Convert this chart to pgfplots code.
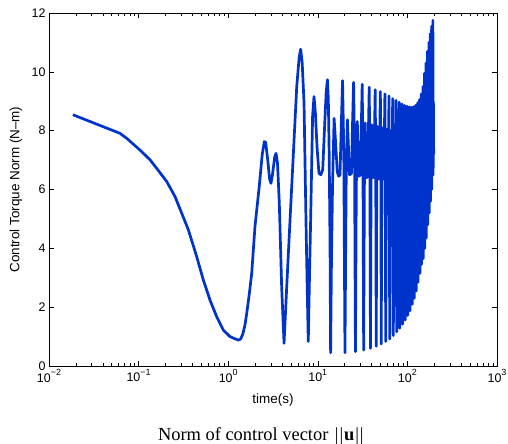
\documentclass[border=0pt]{standalone}
\usepackage{fontspec}
\setmainfont{Liberation Sans}
\newfontfamily\serif{Liberation Serif}
\usepackage{pgfplots}
\pgfplotsset{compat=1.18}
\definecolor{mblue}{rgb}{0,0.2,0.8}
\newcommand{\ex}[1]{10\raisebox{0.95ex}{\fontsize{9}{9}\selectfont #1}}
\begin{document}
\begin{tikzpicture}
\useasboundingbox (-49bp,-78bp) rectangle (459bp,366bp);
\begin{axis}[
  at={(0,0)}, anchor=south west,
  scale only axis, width=448bp, height=353bp,
  xmode=log, xmin=0.01, xmax=1000, ymin=0, ymax=12,
  xtick={0.01,0.1,1,10,100,1000},
  xticklabels={\ex{−2},\ex{−1},\ex{0},\ex{1},\ex{2},\ex{3}},
  ytick={0,2,4,6,8,10,12},
  /pgf/number format/assume math mode=true,
  tick align=inside, xtick pos=both, ytick pos=both,
  major tick length=5bp, minor tick length=3bp,
  every tick/.style={black, line width=0.6bp},
  axis line style={black, line width=0.8bp},
  ticklabel style={font=\fontsize{12.5}{14}\selectfont},
  label style={font=\fontsize{13.5}{15}\selectfont},
  xlabel={time(s)},
  xlabel style={at={(axis description cs:0.5,0)}, anchor=base, yshift=-37bp},
  ylabel={Control Torque Norm (N–m)},
  ylabel style={at={(axis description cs:-0.0737,0.5)}, anchor=center},
  clip=true,
]
\addplot[mblue, line width=2.7bp, line join=round] coordinates {
(0.0185,8.54) (0.062,7.91) (0.075,7.72) (0.092,7.48) (0.108,7.29) (0.135,7.0) (0.159,6.72)
(0.206,6.27) (0.255,5.76) (0.303,5.19) (0.359,4.63) (0.445,3.72) (0.527,2.93)
(0.627,2.24) (0.743,1.68) (0.883,1.22) (1.047,1.0) (1.20,0.92) (1.30,0.88)
(1.38,0.92) (1.46,1.1) (1.54,1.4) (1.61,1.79) (1.72,2.45) (1.83,3.15) (1.99,4.74) (2.22,6.10)
(2.40,7.2) (2.53,7.63) (2.62,7.6) (2.76,7.01) (2.90,6.35) (3.00,6.21)
(3.12,6.5) (3.30,7.1) (3.42,7.23) (3.55,6.9) (3.72,5.53) (3.95,2.70)
(4.20,0.77) (4.50,2.70) (4.90,4.97) (5.34,7.23) (5.82,9.50) (6.20,10.5)
(6.44,10.77) (6.70,10.3) (7.02,8.94) (7.38,4.97) (7.6,2.8) (7.83,0.83)
(8.05,2.8) (8.32,4.97) (8.75,8.5) (9.07,9.16) (9.4,8.6) (9.8,7.46)
(10.3,6.55) (10.8,6.5) (11.35,6.67) (12.0,8.37) (12.4,9.3) (12.8,9.73)
(13.1,9.1) (13.4,7.23) (13.7,4.0) (13.9,0.45) (14.2,3.5) (14.6,6.1)
(15.2,8.42) (15.8,7.6) (16.5,6.6) (17.1,6.45) (17.7,6.5) (18.3,8.2)
(18.9,9.70) (19.5,7.3) (20.1,0.45) (20.7,6.1) (21.4,8.37) (22.6,6.5) (23.8,6.55) (24.4,8.2)
(25.1,9.64) (25.7,7.25) (26.3,0.49) (26.9,6.1) (27.6,8.31) (28.8,6.45) (30.0,6.5) (30.6,8.15)
(31.3,9.58) (31.9,7.2) (32.5,0.54) (33.1,6.1) (33.8,8.26) (35.0,6.4) (36.2,6.45) (36.8,8.1)
(37.5,9.48) (38.1,7.1) (38.7,0.60) (39.3,6.1) (40.0,8.20) (41.2,6.4) (42.4,6.45) (43.0,8.05)
(43.7,9.39) (44.3,7.0) (44.9,0.67) (45.5,6.1) (46.2,8.15) (47.4,6.35) (48.6,6.4) (49.2,8.0)
(49.9,9.33) (50.5,7.0) (51.1,0.75) (51.7,6.1) (52.4,8.10) (53.6,6.35) (54.8,6.4) (55.4,7.95)
(56.1,9.25) (57.3,0.83) (58.6,8.05) (59.8,6.35) (61.0,6.4)
(62.3,9.18) (63.5,0.92) (64.8,8.0) (66.0,6.3) (67.2,6.35)
(68.5,9.09) (69.7,1.03) (71.0,7.96) (72.2,6.3) (73.4,6.35)
(74.7,9.03) (75.9,1.16) (77.2,7.93) (78.4,6.3) (79.6,6.35)
(80.9,8.97) (82.1,1.28) (83.4,7.9) (84.6,6.3) (85.8,6.35)
(87.1,8.91) (88.3,1.42) (89.6,7.88) (90.8,6.3) (92.0,6.35)
(93.3,8.86) (94.5,1.56) (95.8,7.86) (97.0,6.3) (98.2,6.35)
(99.5,8.83) (100.7,1.72) (102.0,7.85) (103.2,6.3) (104.4,6.35)
(105.7,8.81) (106.9,1.88) (108.2,7.85) (109.4,6.3) (110.6,6.35)
(111.9,8.80) (113.1,2.1) (114.4,7.85) (115.6,6.35) (116.8,6.4)
(118.1,8.82) (119.3,2.3) (120.6,7.9) (121.8,6.4) (123.0,6.45)
(124.3,8.87) (125.5,2.55) (126.8,7.95) (128.0,6.45) (129.2,6.5)
(130.5,8.95) (131.7,2.85) (133.0,8.0) (134.2,6.5) (135.4,6.55)
(136.7,9.05) (137.9,3.15) (139.2,8.05) (140.4,6.6) (141.6,6.65)
(142.9,9.25) (144.1,3.45) (145.4,8.15) (146.6,6.7) (147.8,6.75)
(149.1,9.5) (150.3,3.65) (151.6,8.3) (152.8,6.8) (154.0,6.85)
(155.3,9.95) (156.5,4.0) (157.8,8.5) (159.0,6.9) (160.2,7.0)
(161.5,10.3) (162.7,4.35) (164.0,8.7) (165.2,7.0) (166.4,7.1)
(167.7,10.7) (168.9,4.8) (170.2,8.9) (171.4,7.1) (172.6,7.2)
(173.9,11.0) (175.1,5.2) (176.4,9.1) (177.6,7.2) (178.8,7.3)
(180.1,11.3) (181.3,5.6) (182.6,9.3) (183.8,7.3) (185.0,7.4)
(186.3,11.55) (187.5,6.0) (188.8,9.5) (190.0,7.4) (191.2,7.5)
(192.5,11.75) (193.7,6.5) (195.0,9.0) (196.5,7.2)
};
\end{axis}
\node[anchor=base, font=\serif\fontsize{18.5}{20}\selectfont] at (211.8bp,-74bp)
  {Norm of control vector \kern0.1em|\kern0.05em|\kern0.05em\textbf{u}\kern0.05em|\kern0.05em|};
\end{tikzpicture}
\end{document}
